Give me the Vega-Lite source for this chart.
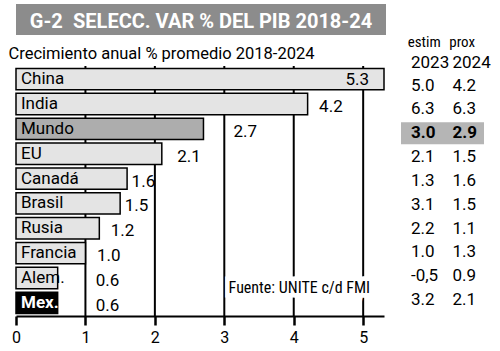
{
  "$schema": "https://vega.github.io/schema/vega-lite/v6.json",
  "padding": {"left": 8, "top": 4, "right": 0, "bottom": 0},
  "background": "white",
  "config": {"font": "Roboto", "view": {"stroke": null}},
  "datasets": {
    "paises": [
      {"pais": "China", "valor": 5.3, "e2023": "5.0", "p2024": "4.2"},
      {"pais": "India", "valor": 4.2, "e2023": "6.3", "p2024": "6.3"},
      {"pais": "Mundo", "valor": 2.7, "e2023": "3.0", "p2024": "2.9"},
      {"pais": "EU", "valor": 2.1, "e2023": "2.1", "p2024": "1.5"},
      {"pais": "Canadá", "valor": 1.6, "e2023": "1.3", "p2024": "1.6"},
      {"pais": "Brasil", "valor": 1.5, "e2023": "3.1", "p2024": "1.5"},
      {"pais": "Rusia", "valor": 1.2, "e2023": "2.2", "p2024": "1.1"},
      {"pais": "Francia", "valor": 1.0, "e2023": "1.0", "p2024": "1.3"},
      {"pais": "Alem.", "valor": 0.6, "e2023": "-0,5", "p2024": "0.9"},
      {"pais": "Mex.", "valor": 0.6, "e2023": "3.2", "p2024": "2.1"}
    ],
    "rejilla": [{"g": 1}, {"g": 2}, {"g": 3}, {"g": 4}, {"g": 5}]
  },
  "spacing": -1,
  "vconcat": [
    {
      "width": 370,
      "height": 31,
      "view": {"fill": "#8c8c8c", "stroke": null},
      "data": {"values": [{}]},
      "mark": {"type": "text", "text": "G-2\u2002SELECC. VAR % DEL PIB 2018-24", "color": "white", "fontWeight": "bold", "fontSize": 20, "baseline": "alphabetic", "dy": 8.5},
      "encoding": {}
    },
    {
      "spacing": 16,
      "hconcat": [
        {
          "width": 368,
          "height": 250,
          "title": {"text": "Crecimiento anual % promedio 2018-2024", "anchor": "start", "fontSize": 16.5, "fontWeight": "normal", "color": "black", "offset": 3, "dx": -3},
          "layer": [
            {
              "data": {"name": "rejilla"},
              "mark": {"type": "rule", "color": "black", "strokeWidth": 2},
              "encoding": {
                "x": {"field": "g", "type": "quantitative",
                      "scale": {"domain": [0, 5.3], "nice": false},
                      "axis": {"values": [0, 1, 2, 3, 4, 5], "format": "d", "title": null, "grid": false,
                               "domainColor": "black", "domainWidth": 2,
                               "tickColor": "black", "tickWidth": 2.5, "tickSize": 9,
                               "labelFontSize": 16, "labelColor": "black", "labelPadding": 4, "labelFlush": false}}
              }
            },
            {
              "data": {"name": "paises"},
              "mark": {"type": "bar", "stroke": "black", "strokeWidth": 1.5},
              "encoding": {
                "y": {"field": "pais", "type": "nominal", "sort": null,
                      "scale": {"paddingInner": 0.14, "paddingOuter": 0.1}, "axis": null},
                "x": {"field": "valor", "type": "quantitative"},
                "color": {"condition": [
                  {"test": "datum.pais === 'Mundo'", "value": "#adadad"},
                  {"test": "datum.pais === 'Mex.'", "value": "#000000"}
                ], "value": "#e4e4e4"}
              }
            },
            {
              "data": {"name": "paises"},
              "transform": [{"filter": "datum.pais !== 'Mex.'"}],
              "mark": {"type": "text", "align": "left", "dx": 5, "fontSize": 17, "color": "black"},
              "encoding": {"y": {"field": "pais", "type": "nominal", "sort": null}, "x": {"datum": 0}, "text": {"field": "pais"}}
            },
            {
              "data": {"name": "paises"},
              "transform": [{"filter": "datum.pais === 'Mex.'"}],
              "mark": {"type": "text", "align": "left", "dx": 5, "fontSize": 17, "fontWeight": "bold", "color": "white"},
              "encoding": {"y": {"field": "pais", "type": "nominal", "sort": null}, "x": {"datum": 0}, "text": {"field": "pais"}}
            },
            {
              "data": {"name": "paises"},
              "transform": [{"filter": "datum.pais === 'China'"}],
              "mark": {"type": "text", "align": "right", "dx": -15, "dy": 1, "fontSize": 17, "color": "black"},
              "encoding": {"y": {"field": "pais", "type": "nominal", "sort": null}, "x": {"field": "valor", "type": "quantitative"}, "text": {"field": "valor", "format": ".1f"}}
            },
            {
              "data": {"name": "paises"},
              "transform": [{"filter": "indexof(['India','Rusia','Francia'], datum.pais) >= 0"}],
              "mark": {"type": "text", "align": "left", "dx": 11.5, "dy": 3, "fontSize": 17, "color": "black"},
              "encoding": {"y": {"field": "pais", "type": "nominal", "sort": null}, "x": {"field": "valor", "type": "quantitative"}, "text": {"field": "valor", "format": ".1f"}}
            },
            {
              "data": {"name": "paises"},
              "transform": [{"filter": "datum.pais === 'EU'"}],
              "mark": {"type": "text", "align": "left", "dx": 15.5, "dy": 3, "fontSize": 17, "color": "black"},
              "encoding": {"y": {"field": "pais", "type": "nominal", "sort": null}, "x": {"field": "valor", "type": "quantitative"}, "text": {"field": "valor", "format": ".1f"}}
            },
            {
              "data": {"name": "paises"},
              "transform": [{"filter": "indexof(['Canadá','Brasil'], datum.pais) >= 0"}],
              "mark": {"type": "text", "align": "left", "dx": 4.5, "dy": 3, "fontSize": 17, "color": "black"},
              "encoding": {"y": {"field": "pais", "type": "nominal", "sort": null}, "x": {"field": "valor", "type": "quantitative"}, "text": {"field": "valor", "format": ".1f"}}
            },
            {
              "data": {"name": "paises"},
              "transform": [{"filter": "datum.pais === 'Mundo'"}],
              "mark": {"type": "text", "align": "left", "dx": 30, "dy": 3, "fontSize": 17, "color": "black"},
              "encoding": {"y": {"field": "pais", "type": "nominal", "sort": null}, "x": {"field": "valor", "type": "quantitative"}, "text": {"field": "valor", "format": ".1f"}}
            },
            {
              "data": {"name": "paises"},
              "transform": [{"filter": "indexof(['Alem.','Mex.'], datum.pais) >= 0"}],
              "mark": {"type": "text", "align": "left", "dx": 38, "dy": 3, "fontSize": 17, "color": "black"},
              "encoding": {"y": {"field": "pais", "type": "nominal", "sort": null}, "x": {"field": "valor", "type": "quantitative"}, "text": {"field": "valor", "format": ".1f"}}
            },
            {
              "data": {"values": [{"fuente": "Fuente: UNITE c/d FMI"}]},
              "mark": {"type": "text", "align": "right", "dy": 10, "fontSize": 16, "font": "Roboto Condensed", "color": "white", "stroke": "white", "strokeWidth": 9},
              "encoding": {"x": {"datum": 5.1}, "y": {"datum": "Alem."}, "text": {"field": "fuente"}}
            },
            {
              "data": {"values": [{"fuente": "Fuente: UNITE c/d FMI"}]},
              "mark": {"type": "text", "align": "right", "dy": 10, "fontSize": 16, "font": "Roboto Condensed", "color": "black"},
              "encoding": {"x": {"datum": 5.1}, "y": {"datum": "Alem."}, "text": {"field": "fuente"}}
            }
          ]
        },
        {
          "width": 83,
          "height": 250,
          "data": {"name": "paises"},
          "resolve": {"axis": {"x": "independent"}},
          "encoding": {
            "y": {"field": "pais", "type": "nominal", "sort": null, "axis": null,
                  "scale": {"domain": ["China", "India", "Mundo", "EU", "Canadá", "Brasil", "Rusia", "Francia", "Alem.", "Mex."],
                            "paddingInner": 0.08, "paddingOuter": 0.286, "align": 0.63}}
          },
          "layer": [
            {
              "transform": [{"filter": "datum.pais === 'Mundo'"}],
              "mark": {"type": "rect", "color": "#b5b5b5"},
              "encoding": {}
            },
            {
              "transform": [{"filter": "datum.pais !== 'Mundo'"}],
              "mark": {"type": "text", "align": "left", "dx": 10, "fontSize": 17, "color": "black"},
              "encoding": {
                "x": {"datum": "2023", "type": "nominal", "bandPosition": 0,
                      "scale": {"type": "band", "domain": ["2023", "2024"], "paddingInner": 0, "paddingOuter": 0},
                      "axis": {"orient": "top", "title": null, "domain": false, "ticks": false, "tickSize": 0, "grid": false,
                               "labelAlign": "left", "labelOffset": -10.75, "labelAngle": 0, "labelBaseline": "alphabetic",
                               "labelFontSize": 17, "labelColor": "black", "labelPadding": -1}},
                "text": {"field": "e2023"}
              }
            },
            {
              "transform": [{"filter": "datum.pais !== 'Mundo'"}],
              "mark": {"type": "text", "align": "left", "dx": 10, "fontSize": 17, "color": "black"},
              "encoding": {
                "x": {"datum": "2024", "type": "nominal", "bandPosition": 0,
                      "axis": {"orient": "top", "title": null, "domain": false, "ticks": false, "tickSize": 0, "grid": false,
                               "offset": 21, "labelExpr": "datum.value == '2023' ? 'estim' : 'prox'",
                               "labelAlign": "left", "labelOffset": -14, "labelAngle": 0, "labelBaseline": "alphabetic",
                               "labelFont": "Roboto Condensed", "labelFontSize": 15, "labelColor": "black", "labelPadding": -1}},
                "text": {"field": "p2024"}
              }
            },
            {
              "transform": [{"filter": "datum.pais === 'Mundo'"}],
              "mark": {"type": "text", "align": "left", "dx": 10, "fontSize": 17, "fontWeight": "bold", "color": "black"},
              "encoding": {"x": {"datum": "2023", "type": "nominal", "bandPosition": 0, "axis": null}, "text": {"field": "e2023"}}
            },
            {
              "transform": [{"filter": "datum.pais === 'Mundo'"}],
              "mark": {"type": "text", "align": "left", "dx": 10, "fontSize": 17, "fontWeight": "bold", "color": "black"},
              "encoding": {"x": {"datum": "2024", "type": "nominal", "bandPosition": 0, "axis": null}, "text": {"field": "p2024"}}
            }
          ]
        }
      ]
    }
  ]
}
